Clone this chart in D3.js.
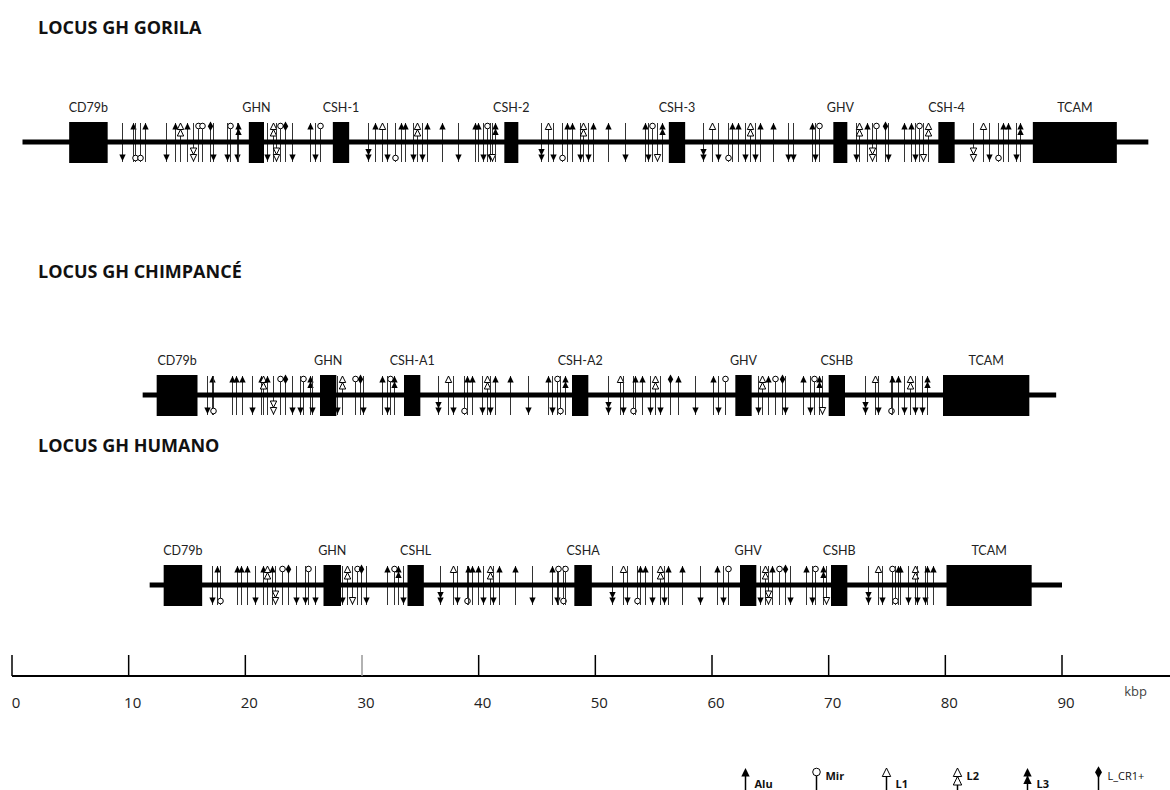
<!DOCTYPE html>
<html>
<head>
<meta charset="utf-8">
<script src="https://cdn.jsdelivr.net/npm/d3@7"></script>
<style>
  body { margin: 0; background: #fff; }
  text { font-family: "Open Sans", "Liberation Sans", sans-serif; }
</style>
</head>
<body>
<svg id="chart" width="1170" height="790"></svg>
<script>
// titles of the three loci
const titles = ["LOCUS GH GORILA", "LOCUS GH CHIMPANCÉ", "LOCUS GH HUMANO"];

// backbone extent of each locus (kbp)
const backbones = [[0.9, 97.4], [11.2, 89.5], [11.8, 90.0]];

// genes: name, start kbp, end kbp
const gorilaGenes = [
    ["CD79b", 4.9, 8.2], ["GHN", 20.3, 21.6], ["CSH-1", 27.5, 28.9], ["CSH-2", 42.2, 43.4],
    ["CSH-3", 56.3, 57.7], ["GHV", 70.4, 71.6], ["CSH-4", 79.4, 80.8], ["TCAM", 87.5, 94.7]
];
const chimpGenes = [
    ["CD79b", 12.4, 15.9], ["GHN", 26.4, 27.8], ["CSH-A1", 33.6, 35.0], ["CSH-A2", 48.0, 49.4],
    ["GHV", 62.0, 63.4], ["CSHB", 70.0, 71.4], ["TCAM", 79.8, 87.2]
];
const humanGenes = [
    ["CD79b", 13.0, 16.3], ["GHN", 26.7, 28.2], ["CSHL", 33.9, 35.3], ["CSHA", 48.2, 49.7],
    ["GHV", 62.4, 63.8], ["CSHB", 70.2, 71.6], ["TCAM", 80.1, 87.4]
];

// repeat elements: kbp, family, strand
const gorilaRepeats = [
    [9.4,"Alu","-"],[10.4,"Alu","+"],[10.5,"Mir","-"],[11.0,"Mir","-"],[11.4,"Alu","+"],
    [13.2,"Alu","-"],[14.0,"Alu","+"],[14.4,"L2","+"],[15.0,"Alu","+"],[15.5,"L2","-"],
    [15.9,"Mir","+"],[16.3,"Mir","+"],[17.0,"L_CR1","+"],[17.2,"Alu","-"],[18.4,"Alu","-"],
    [18.7,"Mir","+"],[19.3,"Alu","-"],[19.4,"L3","+"],[21.9,"Alu","-"],[22.4,"L2","+"],
    [22.6,"L2","-"],[23.0,"Mir","+"],[23.4,"L_CR1","+"],[24.0,"Alu","-"],[25.5,"Alu","+"],
    [26.0,"Alu","-"],[26.4,"Mir","+"],[30.5,"L3","-"],[31.1,"Alu","+"],[31.7,"L1","+"],
    [32.1,"Alu","-"],[32.8,"Mir","-"],[33.3,"Alu","+"],[33.7,"Alu","+"],[34.4,"Alu","-"],
    [34.7,"L2","+"],[35.1,"Alu","-"],[35.6,"Alu","+"],[36.9,"Alu","+"],[38.2,"Alu","-"],
    [39.7,"Alu","+"],[39.9,"Alu","+"],[40.4,"Alu","-"],[40.7,"Mir","+"],[41.0,"Alu","-"],
    [41.1,"L1","-"],[41.4,"L3","+"],[45.3,"L3","-"],[45.9,"L1","+"],[46.4,"Alu","-"],
    [47.1,"Mir","-"],[47.6,"Alu","+"],[48.0,"Alu","+"],[48.7,"Alu","-"],[48.9,"L2","+"],
    [49.4,"Alu","-"],[49.8,"Alu","+"],[51.1,"Alu","+"],[52.5,"Alu","-"],[54.3,"Alu","+"],
    [54.5,"Alu","-"],[54.9,"Mir","+"],[55.3,"L1","-"],[55.7,"L3","+"],[59.2,"L3","-"],
    [60.0,"L1","+"],[60.5,"Alu","-"],[61.4,"Mir","-"],[61.7,"Alu","+"],[62.2,"Alu","+"],
    [62.8,"Alu","-"],[63.3,"L2","+"],[63.7,"Alu","-"],[64.1,"Alu","+"],[65.2,"Alu","+"],
    [66.5,"Alu","-"],[66.9,"Alu","-"],[68.6,"Alu","+"],[68.8,"Alu","-"],[69.2,"Mir","+"],
    [72.3,"Alu","-"],[72.6,"L2","+"],[73.3,"Alu","+"],[73.7,"L2","-"],[74.1,"Mir","+"],
    [74.8,"L_CR1","+"],[75.1,"Alu","-"],[76.5,"Alu","+"],[77.1,"Alu","+"],[77.4,"Alu","-"],
    [77.7,"Mir","+"],[78.1,"L1","-"],[78.5,"L2","+"],[82.4,"L2","-"],[83.2,"L1","+"],
    [83.7,"Alu","-"],[84.5,"Mir","-"],[84.9,"Alu","+"],[85.4,"Alu","+"],[86.1,"Alu","-"],
    [86.4,"L3","+"]
];
const chimpRepeats = [
    [16.7,"Alu","-"],[17.1,"Alu","+"],[17.2,"Mir","-"],[18.9,"Alu","+"],[19.2,"Alu","+"],
    [19.7,"Alu","+"],[20.6,"Alu","-"],[21.3,"Alu","+"],[21.5,"L2","+"],[21.9,"Alu","+"],
    [22.4,"L2","-"],[23.0,"Mir","+"],[23.4,"L_CR1","+"],[24.0,"Alu","-"],[24.7,"Alu","-"],
    [24.9,"Mir","+"],[25.5,"L3","+"],[25.7,"Alu","-"],[27.9,"Alu","-"],[28.3,"L2","+"],
    [29.4,"Mir","+"],[29.8,"L_CR1","+"],[30.1,"Alu","-"],[31.7,"Alu","+"],[32.1,"Alu","-"],
    [32.4,"Mir","+"],[32.7,"L3","+"],[36.5,"L3","-"],[37.4,"L1","+"],[37.8,"Alu","-"],
    [38.7,"Mir","-"],[39.0,"Alu","+"],[39.4,"Alu","+"],[40.3,"Alu","-"],[40.7,"L2","+"],
    [41.0,"Alu","-"],[41.4,"Alu","+"],[42.7,"Alu","+"],[44.2,"Alu","-"],[45.9,"Alu","+"],
    [46.3,"Alu","-"],[46.7,"Mir","+"],[47.0,"Mir","-"],[47.4,"L3","+"],[51.1,"L3","-"],
    [52.1,"L1","+"],[52.4,"Alu","-"],[53.2,"Mir","-"],[53.4,"Alu","+"],[54.0,"Alu","+"],
    [54.7,"Alu","-"],[55.1,"L2","+"],[55.5,"Alu","-"],[56.4,"L_CR1","+"],[57.1,"Alu","+"],
    [58.5,"Alu","-"],[60.1,"Alu","+"],[60.5,"Alu","-"],[61.1,"Mir","+"],[63.9,"Alu","-"],
    [64.3,"L2","+"],[64.8,"Alu","+"],[65.4,"Mir","+"],[66.0,"L_CR1","+"],[66.3,"Alu","-"],
    [67.8,"Alu","+"],[68.4,"Alu","-"],[68.7,"Mir","+"],[69.2,"L3","+"],[69.4,"L1","-"],
    [73.1,"L3","-"],[74.0,"L1","+"],[74.2,"Alu","-"],[75.3,"Mir","-"],[75.4,"Alu","+"],
    [75.9,"Alu","+"],[76.5,"Alu","-"],[77.0,"L2","+"],[77.4,"Alu","-"],[78.0,"Alu","-"],
    [78.4,"L3","+"]
];
const humanRepeats = [
    [17.1,"Alu","-"],[17.6,"Alu","+"],[17.8,"Mir","-"],[19.3,"Alu","+"],[19.6,"Alu","+"],
    [20.1,"Alu","+"],[20.8,"Alu","-"],[21.5,"Alu","+"],[21.9,"L2","+"],[22.3,"Alu","+"],
    [22.5,"L2","-"],[23.1,"Mir","+"],[23.7,"L_CR1","+"],[24.3,"Alu","-"],[25.1,"Alu","-"],
    [25.4,"Mir","+"],[26.0,"Alu","-"],[28.3,"Alu","-"],[28.7,"L2","+"],[29.1,"L1","-"],
    [29.6,"Mir","+"],[29.9,"L_CR1","+"],[30.3,"Alu","-"],[32.1,"Alu","+"],[32.7,"Mir","+"],
    [33.1,"L3","+"],[33.5,"Alu","-"],[36.7,"L3","-"],[37.8,"L1","+"],[38.1,"Alu","-"],
    [39.0,"Mir","-"],[39.1,"Alu","+"],[39.4,"Alu","+"],[39.9,"Alu","+"],[40.4,"Alu","-"],
    [41.0,"L2","+"],[41.2,"Alu","-"],[41.7,"Alu","+"],[43.1,"Alu","+"],[44.6,"Alu","-"],
    [46.3,"Alu","+"],[46.7,"Alu","-"],[46.8,"Mir","+"],[47.2,"Mir","-"],[47.4,"Mir","+"],
    [51.4,"L3","-"],[52.4,"L1","+"],[52.7,"Alu","-"],[53.6,"Mir","-"],[53.8,"Alu","+"],
    [54.3,"Alu","+"],[54.9,"Alu","-"],[55.5,"L2","+"],[55.9,"Alu","-"],[56.2,"Alu","+"],
    [57.4,"Alu","+"],[59.0,"Alu","-"],[60.4,"Alu","+"],[60.9,"Alu","-"],[61.4,"Mir","+"],
    [64.1,"Alu","-"],[64.5,"L2","+"],[64.8,"L2","-"],[65.1,"Alu","+"],[65.7,"Mir","+"],
    [66.3,"L_CR1","+"],[66.7,"Alu","-"],[68.1,"Alu","+"],[68.6,"Alu","-"],[68.8,"Mir","+"],
    [69.5,"L3","+"],[69.8,"L1","-"],[73.4,"L3","-"],[74.2,"L1","+"],[74.6,"Alu","-"],
    [75.4,"Mir","+"],[75.7,"Mir","-"],[75.9,"Alu","+"],[76.1,"Alu","+"],[76.8,"Alu","-"],
    [77.4,"L2","+"],[77.6,"Alu","-"],[78.3,"Alu","-"],[78.4,"Alu","+"],[78.9,"Alu","+"]
];

// axis ticks (kbp) and legend entries
const axisTicks = [0, 10, 20, 30, 40, 50, 60, 70, 80, 90];
const legendFamilies = ["Alu", "Mir", "L1", "L2", "L3", "L_CR1"];
const legendLabels = ["Alu", "Mir", "L1", "L2", "L3", "L_CR1+"];

const genes = [gorilaGenes, chimpGenes, humanGenes];
const repeats = [gorilaRepeats, chimpRepeats, humanRepeats];

const svg = d3.select("#chart");
const x = d3.scaleLinear().domain([0, 90]).range([12, 1062]);

// layout of each row
const rowY = [142, 395, 585];
const titleY = [34, 278, 452];
const boxHalf = 20;

// draw one repeat marker; dir = -1 points up, +1 points down
function marker(g, fam, cx, tip, dir, big) {
    const w = big ? 4.2 : 3.2, h = big ? 8.5 : 6.5;
    const tri = t => `M${cx},${t}L${cx - w},${t - dir * h}L${cx + w},${t - dir * h}Z`;
    if (fam == "Alu") {
        g.append("path").attr("d", tri(tip)).attr("fill", "#000");
    } else if (fam == "L1") {
        g.append("path").attr("d", tri(tip)).attr("fill", "#fff").attr("stroke", "#000").attr("stroke-width", 1);
    } else if (fam == "L2") {
        g.append("path").attr("d", tri(tip)).attr("fill", "#fff").attr("stroke", "#000").attr("stroke-width", 1);
        g.append("path").attr("d", tri(tip - dir * h)).attr("fill", "#fff").attr("stroke", "#000").attr("stroke-width", 1);
    } else if (fam == "L3") {
        g.append("path").attr("d", tri(tip)).attr("fill", "#000");
        g.append("path").attr("d", tri(tip - dir * (h - 1))).attr("fill", "#000");
    } else if (fam == "Mir") {
        g.append("circle").attr("cx", cx).attr("cy", tip - dir * (w - 0.2)).attr("r", w - 0.4)
            .attr("fill", "#fff").attr("stroke", "#000").attr("stroke-width", 1);
    } else if (fam == "L_CR1") {
        g.append("path").attr("d", d3.symbol(d3.symbolDiamond, big ? 42 : 26)())
            .attr("transform", `translate(${cx},${tip - dir * (w)})`).attr("fill", "#000");
    }
}

titles.forEach((t, i) => {
    const y0 = rowY[i];
    const g = svg.append("g");

    g.append("text").attr("x", 38).attr("y", titleY[i])
        .attr("font-size", 18).attr("font-weight", 700).attr("fill", "#111")
        .text(t);

    // repeats first so the backbone and genes sit over them
    const rg = g.append("g");
    repeats[i].forEach(r => {
        const cx = Math.round(x(r[0])) + 0.5;
        const dir = r[2] == "+" ? -1 : 1;
        rg.append("line").attr("x1", cx).attr("x2", cx)
            .attr("y1", y0 - boxHalf + 1).attr("y2", y0 + boxHalf)
            .attr("stroke", "#333").attr("stroke-width", 1);
        const tip = dir < 0 ? y0 - boxHalf + 1 : y0 + boxHalf - 1;
        marker(rg, r[1], cx, tip, dir, false);
    });

    g.append("line")
        .attr("x1", x(backbones[i][0])).attr("x2", x(backbones[i][1]))
        .attr("y1", y0).attr("y2", y0)
        .attr("stroke", "#000").attr("stroke-width", 5);

    g.selectAll("rect.gene").data(genes[i]).join("rect")
        .attr("class", "gene")
        .attr("x", d => x(d[1])).attr("width", d => x(d[2]) - x(d[1]))
        .attr("y", y0 - boxHalf).attr("height", boxHalf * 2 + 1)
        .attr("fill", "#000");

    g.selectAll("text.gene").data(genes[i]).join("text")
        .attr("class", "gene")
        .attr("x", d => (x(d[1]) + x(d[2])) / 2).attr("y", y0 - boxHalf - 10)
        .attr("text-anchor", "middle").attr("font-size", 12.5)
        .style("font-family", "Lato, 'Open Sans', sans-serif").attr("fill", "#222")
        .text(d => d[0]);
});

// scale bar in kbp
const axisY = 676;
const ag = svg.append("g");
ag.append("line").attr("x1", x(0)).attr("x2", 1170)
    .attr("y1", axisY).attr("y2", axisY)
    .attr("stroke", "#000").attr("stroke-width", 2);
ag.selectAll("line.tick").data(axisTicks).join("line")
    .attr("class", "tick")
    .attr("x1", d => x(d)).attr("x2", d => x(d))
    .attr("y1", axisY - 21).attr("y2", axisY)
    .attr("stroke", d => d == 30 ? "#999" : "#000").attr("stroke-width", 1.5);
ag.selectAll("text.tick").data(axisTicks).join("text")
    .attr("class", "tick")
    .attr("x", d => x(d) + 4).attr("y", axisY + 32)
    .attr("text-anchor", "middle").attr("font-size", 15).attr("fill", "#222")
    .text(d => d);
ag.append("text").attr("x", x(96.3)).attr("y", axisY + 20)
    .attr("text-anchor", "middle").attr("font-size", 13).attr("fill", "#444")
    .text("kbp");

// legend of repeat families
const lx = d3.scalePoint().domain(legendFamilies).range([745, 1098]);
const lg = svg.append("g");
legendFamilies.forEach((f, i) => {
    const cx = Math.round(lx(f)) + 0.5;
    lg.append("line").attr("x1", cx).attr("x2", cx)
        .attr("y1", 771).attr("y2", 792)
        .attr("stroke", "#000").attr("stroke-width", 1.5);
    marker(lg, f, cx, 768, -1, true);
    lg.append("text").attr("x", cx + 9).attr("y", i % 2 ? 780 : 788)
        .attr("font-size", 11).attr("font-weight", f == "L_CR1" ? 400 : 700)
        .attr("fill", "#111")
        .text(legendLabels[i]);
});
</script>
</body>
</html>
